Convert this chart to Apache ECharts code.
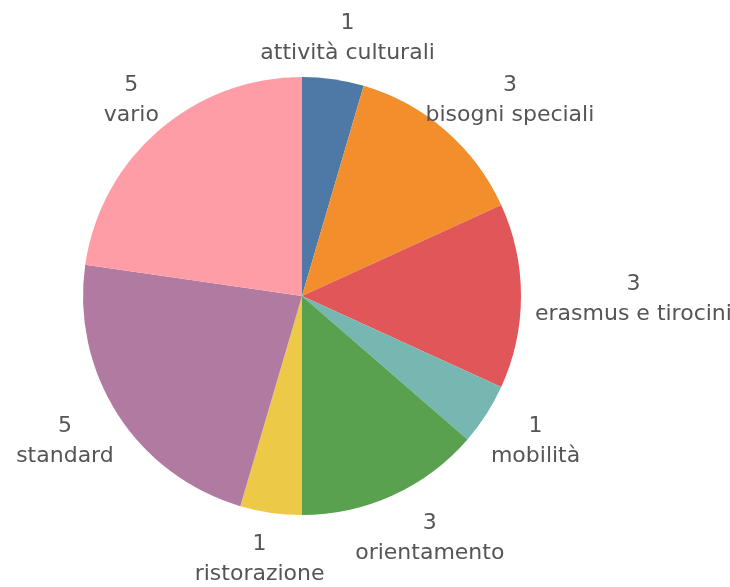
<!DOCTYPE html>
<html><head><meta charset="utf-8">
<script src="https://cdn.jsdelivr.net/npm/echarts@6/dist/echarts.min.js"></script>
<style>html,body{margin:0;padding:0;background:#fff}#c{width:730px;height:587px}</style>
</head><body><div id="c"></div>
<script>
const categories = ['attività culturali','bisogni speciali','erasmus e tirocini','mobilità','orientamento','ristorazione','standard','vario'];
const values = [1,3,3,1,3,1,5,5];
const colors = ['#4e79a7','#f28e2b','#e15759','#76b7b2','#59a14f','#edc948','#b07aa1','#ff9da7'];

const CX = 302, CY = 296, R = 219, GAP = 14, SHIFT_Y = 3;
const FONT_SIZE = 22, LINE_H = 30, FONT = 'DejaVu Sans';
const total = values.reduce((a,b)=>a+b,0);
function midAngle(i){
  let s = 0; for (let k=0;k<i;k++) s += values[k];
  return (s + values[i]/2) / total * 2 * Math.PI; // clockwise from top
}
const ctx = document.createElement('canvas').getContext('2d');
ctx.font = FONT_SIZE + 'px "' + FONT + '"';
function textW(i){
  return Math.max(ctx.measureText(String(values[i])).width, ctx.measureText(categories[i]).width);
}
const chart = echarts.init(document.getElementById('c'), null, {renderer:'canvas'});
chart.setOption({
  animation:false,
  series:[{
    type:'pie',
    center:[CX, CY],
    radius:[0, R],
    startAngle:90,
    clockwise:true,
    data: categories.map((n,i)=>({name:n, value:values[i], itemStyle:{color:colors[i]}})),
    label:{
      show:true, position:'outside', formatter:'{c}\n{b}',
      fontFamily:FONT, fontSize:FONT_SIZE, lineHeight:LINE_H, color:'#555',
      overflow:'none', width:300
    },
    labelLine:{show:false},
    labelLayout:function(p){
      const i = p.dataIndex;
      const a = midAngle(i);
      const dx = Math.sin(a), dy = -Math.cos(a);
      const w = textW(i), h = 2*LINE_H;
      const ex = CX + dx*R, ey = CY + dy*R;
      return {x: ex + dx*GAP + dx*w/2, y: ey + dy*GAP + dy*h/2 + SHIFT_Y, align:'center', verticalAlign:'middle'};
    },
    emphasis:{disabled:true}
  }]
});
</script></body></html>
